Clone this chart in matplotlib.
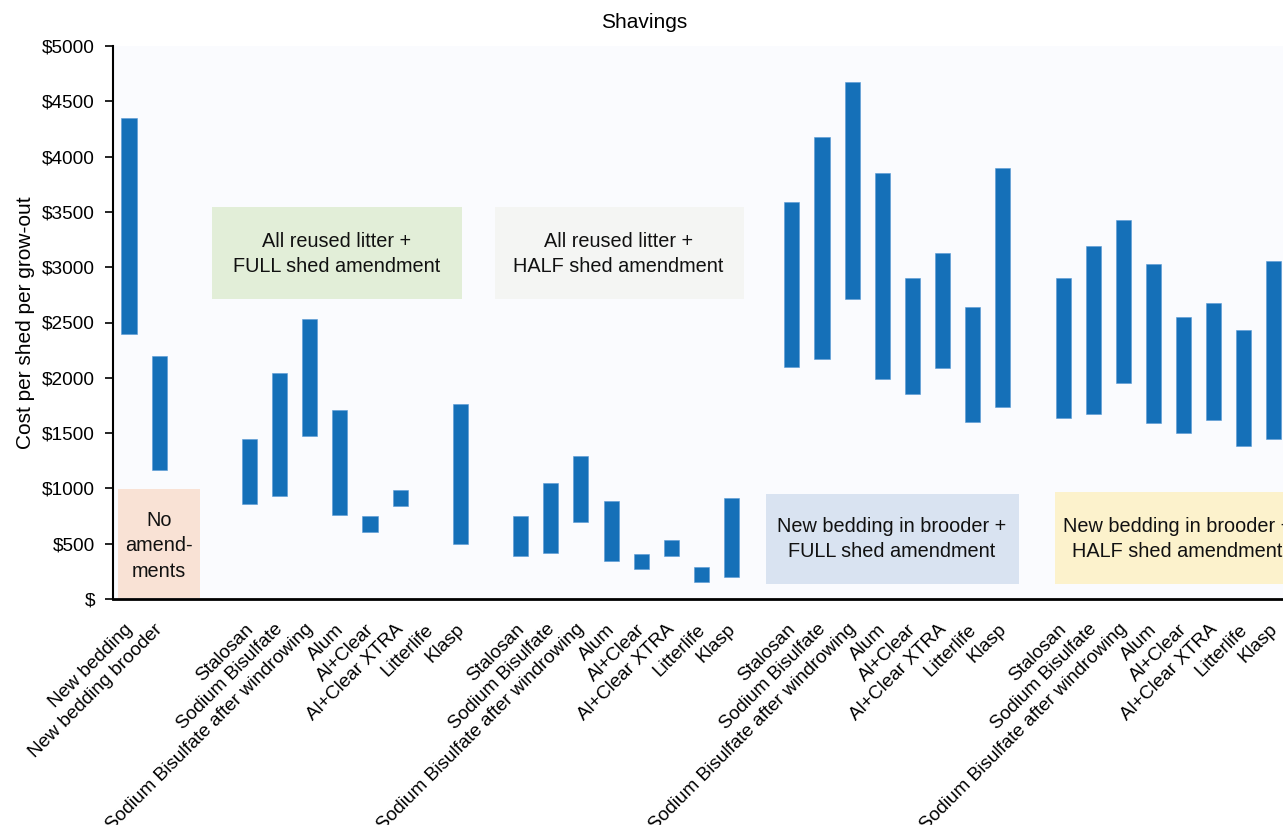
import matplotlib
matplotlib.use("Agg")
import matplotlib.pyplot as plt
from matplotlib.patches import Rectangle
import matplotlib.transforms as mtransforms

plt.rcParams['font.family'] = ['Liberation Sans', 'DejaVu Sans']

# ---------------- data ----------------
amendments = ["Stalosan", "Sodium Bisulfate", "Sodium Bisulfate after windrowing",
              "Alum", "Al+Clear", "Al+Clear XTRA", "Litterlife", "Klasp"]
baseline_labels = ["New bedding", "New bedding brooder"]

baseline_low = [2400, 1170]
baseline_high = [4350, 2200]

# All reused litter + FULL shed amendment (Litterlife: no bar)
g1_low = [860, 930, 1470, 760, 610, 840, None, 500]
g1_high = [1450, 2040, 2530, 1710, 750, 990, None, 1760]
# All reused litter + HALF shed amendment
g2_low = [390, 420, 700, 340, 270, 390, 150, 200]
g2_high = [750, 1050, 1290, 890, 410, 530, 290, 910]
# New bedding in brooder + FULL shed amendment
g3_low = [2100, 2170, 2710, 1990, 1850, 2090, 1600, 1740]
g3_high = [3590, 4180, 4670, 3850, 2900, 3130, 2640, 3900]
# New bedding in brooder + HALF shed amendment
g4_low = [1640, 1670, 1950, 1590, 1500, 1620, 1380, 1450]
g4_high = [2900, 3190, 3430, 3030, 2550, 2680, 2430, 3060]

y_ticks = [0, 500, 1000, 1500, 2000, 2500, 3000, 3500, 4000, 4500, 5000]
y_ticklabels = ["$", "$500", "$1000", "$1500", "$2000", "$2500", "$3000",
                "$3500", "$4000", "$4500", "$5000"]

title = "Shavings"
ylabel = "Cost per shed per grow-out"

# ---------------- layout ----------------
positions = [0, 1]
labels = list(baseline_labels)
lows = list(baseline_low)
highs = list(baseline_high)
group_starts = [4, 13, 22, 31]
for start, lo, hi in zip(group_starts, [g1_low, g2_low, g3_low, g4_low],
                         [g1_high, g2_high, g3_high, g4_high]):
    for k, name in enumerate(amendments):
        positions.append(start + k)
        labels.append(name)
        lows.append(lo[k])
        highs.append(hi[k])

fig = plt.figure(figsize=(12.83, 8.25), dpi=100)
ax = fig.add_axes([113 / 1283, 1 - 599 / 825, 1 - 113 / 1283, (599 - 46) / 825])
ax.set_facecolor('#fafbfe')

bar_color = '#1570b8'
for x, lo, hi in zip(positions, lows, highs):
    if lo is None or hi is None:
        continue
    ax.bar(x, hi - lo, bottom=lo, width=0.5, color=bar_color,
           edgecolor='#5a9ad6', linewidth=0.4, zorder=3)

# annotation boxes (x0, x1, y0, y1, colour, text, text x, text y)
boxes = [
    (-0.36, 2.36, 10, 995, '#f9e2d5', "No\namend-\nments", 1.0, 480),
    (2.75, 11.05, 2710, 3540, '#e2eed8', "All reused litter +\nFULL shed amendment", 6.9, 3120),
    (12.15, 20.41, 2710, 3540, '#f4f5f3', "All reused litter +\nHALF shed amendment", 16.25, 3120),
    (21.14, 29.54, 140, 950, '#d9e3f1', "New bedding in brooder +\nFULL shed amendment", 25.32, 540),
    (30.73, 38.9, 140, 965, '#fcf2cc', "New bedding in brooder +\nHALF shed amendment", 34.8, 540),
]
for x0, x1, y0, y1, col, txt, tx, ty in boxes:
    ax.add_patch(Rectangle((x0, y0), x1 - x0, y1 - y0, facecolor=col,
                           edgecolor='none', zorder=1))
    ax.text(tx, ty, txt, ha='center', va='center', fontsize=14.3,
            linespacing=1.42, zorder=4, clip_on=True, color='#111111')

ax.set_xlim(-0.53, 38.3)
ax.set_ylim(0, 5000)
ax.set_yticks(y_ticks)
ax.set_yticklabels(y_ticklabels, fontsize=13.7)
ax.set_xticks(positions)
ax.set_xticklabels(labels, rotation=45, ha='right', rotation_mode='anchor',
                   fontsize=13.7)
ax.tick_params(axis='x', length=0, pad=10)
ax.tick_params(axis='y', length=6, width=1.2, pad=7, direction='out')

offset = mtransforms.ScaledTranslation(-5 / 100, -8 / 100, fig.dpi_scale_trans)
for lab in ax.get_xticklabels():
    lab.set_transform(lab.get_transform() + offset)

for s in ['top', 'right']:
    ax.spines[s].set_visible(False)
ax.spines['left'].set_linewidth(1.5)
ax.spines['bottom'].set_linewidth(2)
ax.spines['left'].set_zorder(5)
ax.spines['bottom'].set_zorder(5)

ax.set_ylabel(ylabel, fontsize=15, labelpad=5)
fig.text(644 / 1283, 1 - 23 / 825, title, ha='center', va='center', fontsize=15)

fig.savefig("out.png", dpi=100, facecolor='white')
